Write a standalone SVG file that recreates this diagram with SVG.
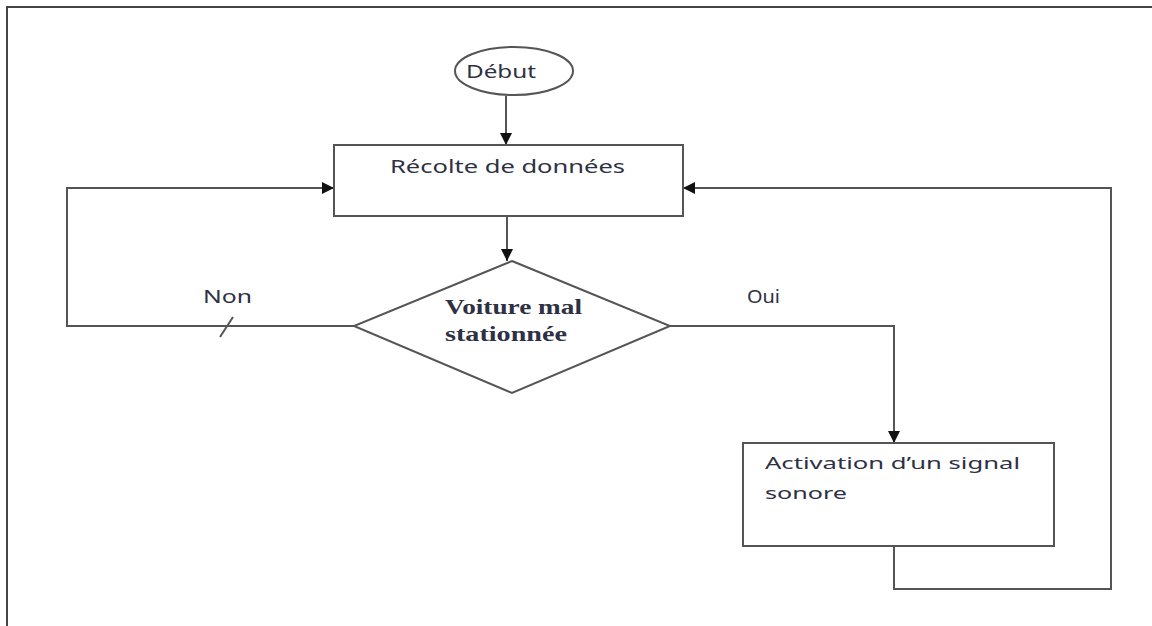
<svg xmlns="http://www.w3.org/2000/svg" width="1152" height="626" viewBox="0 0 1152 626">
<defs>
<style>
.ln{fill:none;stroke:#555;stroke-width:2}
.shp{fill:#fff;stroke:#555;stroke-width:2}
.t{font-family:"Noto Sans","Liberation Sans",sans-serif;fill:#2e3144}
.s{font-family:"Liberation Serif","Times New Roman",serif;fill:#2e3144;font-weight:bold}
</style>
<marker id="ah" viewBox="0 0 10 10" refX="10" refY="5" markerWidth="12" markerHeight="12" markerUnits="userSpaceOnUse" orient="auto">
<path d="M0,0 L10,5 L0,10 Z" fill="#111"/>
</marker>
</defs>
<rect width="1152" height="626" fill="#fff"/>
<path d="M7,626 V7 H1152" fill="none" stroke="#444" stroke-width="2"/>
<g id="connectors">
<path class="ln" d="M506,96 V145" marker-end="url(#ah)"/>
<path class="ln" d="M507,216 V261" marker-end="url(#ah)"/>
<path class="ln" d="M354,326 H67 V188 H334" marker-end="url(#ah)"/>
<path class="ln" d="M220,337 L233,317"/>
<path class="ln" d="M670,326 H894 V443" marker-end="url(#ah)"/>
<path class="ln" d="M894,546 V589 H1111 V188 H683" marker-end="url(#ah)"/>
<text class="t" x="203" y="303" font-size="18" textLength="49" lengthAdjust="spacingAndGlyphs">Non</text>
<text class="t" x="747" y="303" font-size="18" textLength="33" lengthAdjust="spacingAndGlyphs">Oui</text>
</g>
<g id="debut">
<ellipse class="shp" cx="514" cy="71" rx="59" ry="24"/>
<text class="t" x="466" y="78" font-size="18" textLength="70" lengthAdjust="spacingAndGlyphs">Début</text>
</g>
<g id="recolte">
<rect class="shp" x="334" y="145" width="349" height="71"/>
<text class="t" x="390" y="173" font-size="18" textLength="235" lengthAdjust="spacingAndGlyphs">Récolte de données</text>
</g>
<g id="decision">
<polygon class="shp" points="512,261 670,326 512,393 354,326"/>
<text class="s" x="445" y="314" font-size="21" textLength="137" lengthAdjust="spacingAndGlyphs">Voiture mal</text>
<text class="s" x="445" y="341" font-size="21" textLength="122" lengthAdjust="spacingAndGlyphs">stationnée</text>
</g>
<g id="activation">
<rect class="shp" x="743" y="443" width="311" height="103"/>
<text class="t" x="765" y="469" font-size="17" textLength="255" lengthAdjust="spacingAndGlyphs">Activation  d’un signal</text>
<text class="t" x="765" y="499" font-size="17" textLength="82" lengthAdjust="spacingAndGlyphs">sonore</text>
</g>
</svg>
